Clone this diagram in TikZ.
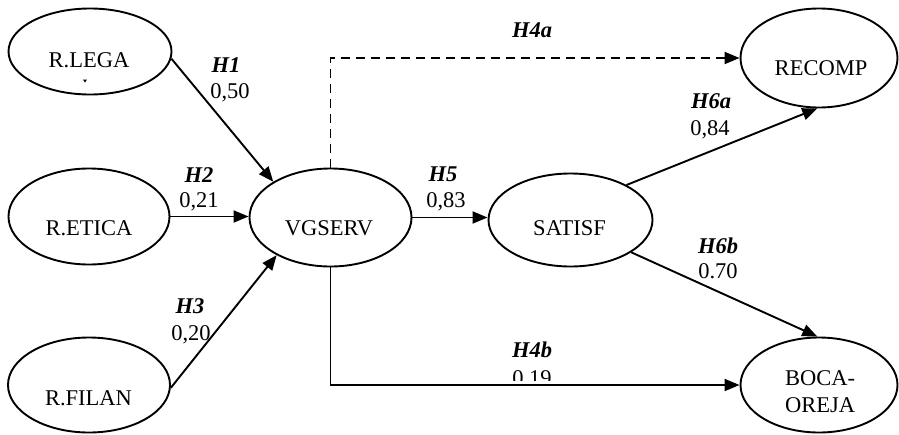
\documentclass[tikz,border=0pt]{standalone}
\usepackage{fontspec}
\setmainfont{Liberation Serif}
\usetikzlibrary{shapes.geometric,arrows.meta}
\begin{document}
\begin{tikzpicture}[x=1pt,y=-1pt,
  lat/.style={draw,ellipse,line width=1.9pt,inner sep=0pt},
  txt/.style={anchor=base,inner sep=0pt,font=\fontsize{22.5}{27}\selectfont},
  hyp/.style={anchor=base,inner sep=0pt,font=\fontsize{22.5}{27}\selectfont\bfseries\itshape},
  arr/.style={line width=1.9pt,-{Triangle[length=15pt,width=12pt]}},
  dasharr/.style={arr,dash pattern=on 9pt off 6pt}
]
\useasboundingbox (0,0) rectangle (899,434);

% latent variables
\node[lat,minimum width=163pt,minimum height=86pt] (lega) at (90,51.5) {};
\node[lat,minimum width=161pt,minimum height=96pt] (etica) at (89,216.5) {};
\node[lat,minimum width=162pt,minimum height=98pt] (vgserv) at (330.5,217.5) {};
\node[lat,minimum width=162pt,minimum height=95pt] (filan) at (89,385) {};
\node[lat,minimum width=164pt,minimum height=93pt] (satisf) at (570.5,220) {};
\node[lat,minimum width=157pt,minimum height=99pt] (recomp) at (819,58) {};
\node[lat,minimum width=157pt,minimum height=95pt] (boca) at (819,385) {};

% names
\node[txt] (legat) at (89,67) {R.LEGA};
\fill (83,79.5) -- (87,79.5) -- (85,82.5) -- cycle;
\node[txt] (eticat) at (89,235) {R.ETICA};
\node[txt] (vgservt) at (329,235) {VGSERV};
\node[txt] (filant) at (88.5,405) {R.FILAN};
\node[txt] (satisft) at (569.5,235) {SATISF};
\node[txt] (recompt) at (821,75) {RECOMP};
\node[txt] (bocat) at (820,385) {BOCA-};
\node[txt] (orejat) at (820,412) {OREJA};

% connectors
\draw[arr] (lega.-5) -- (vgserv.148);
\draw[arr] (etica.east) -- (etica.east -| vgserv.west);
\draw[arr] (filan.-2) -- (vgserv.215);
\draw[dasharr] (vgserv.north) |- (recomp.west);
\draw[arr] (vgserv.east) -- (vgserv.east -| satisf.west);
\draw[arr] (satisf.32) -- (recomp.-92);
\draw[arr] (satisf.-28) -- (boca.92);
\draw[arr] (vgserv.south) |- (boca.west);

% path labels
\node[hyp] (h1) at (226,72) {H1};
\node[txt] (c1) at (230,98) {0,50};
\node[hyp] (h2) at (199,182) {H2};
\node[txt] (c2) at (199,207) {0,21};
\node[hyp] (h3) at (190,313) {H3};
\node[txt] (c3) at (191,340) {0,20};
\node[hyp] (h4a) at (532,37) {H4a};
\node[hyp] (h5) at (443,181) {H5};
\node[txt] (c5) at (446,207) {0,83};
\node[hyp] (h6a) at (711,108) {H6a};
\node[txt] (c6a) at (710,135) {0,84};
\node[hyp] (h6b) at (718,253) {H6b};
\node[txt] (c6b) at (718,278) {0.70};
\node[hyp] (h4b) at (532,357) {H4b};
\begin{scope}
\clip (480,350) rectangle (600,380);
\node[txt] (c4b) at (532,385) {0.19};
\end{scope}
\end{tikzpicture}
\end{document}
